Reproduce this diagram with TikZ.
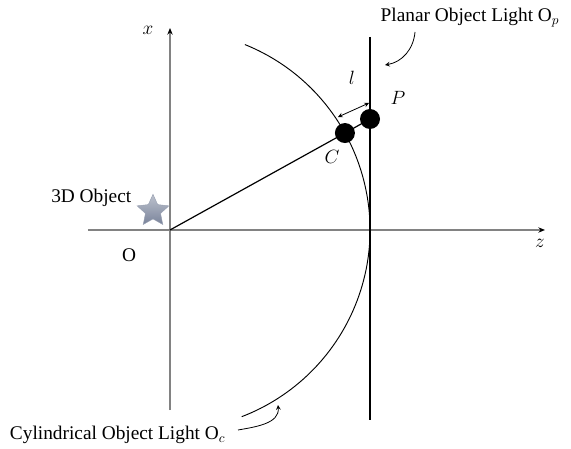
\documentclass[tikz,border=0pt]{standalone}
\usepackage{fontspec}
\setmainfont{Liberation Serif}
\usetikzlibrary{calc,arrows.meta,shapes.geometric}
\definecolor{axisgray}{RGB}{130,130,130}
\definecolor{stargray}{RGB}{122,132,155}

\begin{document}
\begin{tikzpicture}[x=0.75pt,y=0.75pt,font=\fontsize{14.5}{17}\selectfont]
    \useasboundingbox (-170,-219) rectangle (401,230);
    % axes
    \coordinate (O) at (0,0);
    \coordinate (xbot) at (0,-180);
    \coordinate (xtop) at (0,202);
    \coordinate (zleft) at (-82,0);
    \coordinate (zright) at (375,0);
    \draw[axisgray, line width=1pt, -{Stealth[black,length=5pt,width=4pt]}] (xbot) -- (xtop);
    \draw[axisgray, line width=1pt, -{Stealth[black,length=5pt,width=4pt]}] (zleft) -- (zright);
    \node (xlab) at (-22,200) {$x$};
    \node (zlab) at (370,-13) {$z$};
    \node (olab) at (-41,-25) {O};
    % cylindrical and planar lights
    \draw[line width=0.7pt] (O) ++(68:200) arc[start angle=68, end angle=-69, radius=200];
    \coordinate (ptop) at (200,193);
    \coordinate (pbot) at (200,-190);
    \draw[line width=1.6pt] (ptop) -- (pbot);
    % points C and P
    \coordinate (C) at (29:200);
    \coordinate (P) at (200,111);
    \draw[line width=0.9pt] (O) -- (C) -- (P);
    \fill (C) circle (10);
    \fill (P) circle (10);
    \node (clab) at (162,73) {$C$};
    \node (plab) at (228,132) {$P$};
    \coordinate (la) at (168,113);
    \coordinate (lb) at (199,127);
    \draw[<->, >=stealth, line width=0.6pt] (la) -- (lb);
    \node (llab) at (182,152) {$l$};
    % 3D object
    \node (obj) at (-17,19) [star, star points=5, star point ratio=2.1, minimum size=25pt, inner sep=0pt, top color=stargray!50, bottom color=stargray, draw=stargray!80, line width=0.3pt] {};
    \node (objlab) at (-34,32) [anchor=east] {3D Object};
    % labels with curved arrows
    \node (planlab) at (300,212) {Planar Object Light O$_{p}$};
    \coordinate (pa) at (245,198);
    \coordinate (pb) at (215,165);
    \draw[->, >=stealth, line width=0.6pt] (pa) to[out=-95, in=10] (pb);
    \node (cyllab) at (60,-205) [anchor=east] {Cylindrical Object Light O$_{c}$};
    \coordinate (ca) at (68,-200);
    \coordinate (cb) at (108,-175);
    \draw[->, >=stealth, line width=0.6pt] (ca) to[out=10, in=-85] (cb);
\end{tikzpicture}
\end{document}
